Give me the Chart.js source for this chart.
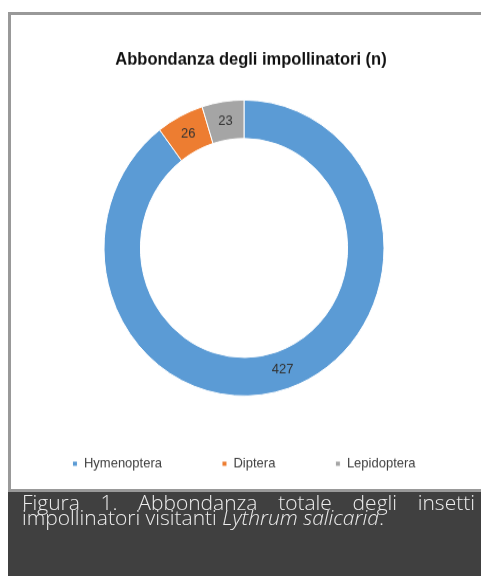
<!DOCTYPE html>
<html>
<head>
<meta charset="utf-8">
<script src="https://cdn.jsdelivr.net/npm/chart.js@4.4.1/dist/chart.umd.min.js"></script>
<style>
  html, body { margin: 0; padding: 0; background: #fff; width: 481px; height: 576px; overflow: hidden; }
  #box { position: absolute; left: 8px; top: 12px; width: 480px; height: 474px; overflow: hidden;
         border-left: 3px solid #999; border-top: 3px solid #999; border-bottom: 3px solid #999; background: #fff; }
  #wrap { position: absolute; left: 0; top: 0; width: 470px; height: 448px;
          transform: scaleY(1.057); transform-origin: 0 0; }
  #cap { position: absolute; left: 8px; top: 492px; width: 473px; height: 84px; box-sizing: border-box;
         background: #404040; color: #ececec; font-family: 'Open Sans', sans-serif; font-weight: 300;
         font-size: 21px; line-height: 15px; text-align: justify; padding: 3px 6px 0 14px; }
  #cap p { margin: 0; }
</style>
</head>
<body>
<div id="box"><div id="wrap"><canvas id="c" width="470" height="448"></canvas></div></div>
<div id="cap"><p>Figura 1. Abbondanza totale degli insetti impollinatori visitanti <em>Lythrum salicaria</em>.</p></div>
<script>
const categories = ['Hymenoptera', 'Diptera', 'Lepidoptera'];
const values = [427, 26, 23];
const chartTitle = 'Abbondanza degli impollinatori (n)';

const sliceColors = ['#5B9BD5', '#ED7D31', '#A5A5A5'];
const FONT = "'Liberation Sans', Arial, sans-serif";

const dataLabels = {
  id: 'dataLabels',
  afterDatasetsDraw(chart) {
    const ctx = chart.ctx;
    const meta = chart.getDatasetMeta(0);
    ctx.save();
    ctx.font = '13px ' + FONT;
    ctx.fillStyle = '#333';
    ctx.textAlign = 'center';
    ctx.textBaseline = 'middle';
    meta.data.forEach((arc, i) => {
      const p = arc.tooltipPosition();
      ctx.fillText(String(chart.data.datasets[0].data[i]), p.x, p.y);
    });
    ctx.restore();
  }
};

const titleShift = {
  id: 'titleShift',
  afterLayout(chart) {
    if (chart.titleBlock) { chart.titleBlock.left += 7; chart.titleBlock.right += 7; }
  }
};

new Chart(document.getElementById('c'), {
  type: 'doughnut',
  data: {
    labels: categories,
    datasets: [{
      data: values,
      backgroundColor: sliceColors,
      borderColor: '#ffffff',
      borderWidth: 1,
      radius: 140,
      cutout: '74%'
    }]
  },
  options: {
    responsive: false,
    animation: false,
    layout: { padding: { left: 0, right: 4, top: 0, bottom: 7 } },
    plugins: {
      title: {
        display: true,
        text: chartTitle,
        color: '#111',
        font: { family: FONT, size: 16.5, weight: 'bold' },
        padding: { top: 32.7, bottom: 30.3 }
      },
      legend: {
        position: 'bottom',
        labels: {
          usePointStyle: true,
          pointStyle: 'rect',
          boxWidth: 5,
          boxHeight: 5,
          padding: 60,
          color: '#404040',
          font: { family: FONT, size: 13 }
        }
      },
      tooltip: { enabled: false }
    }
  },
  plugins: [dataLabels, titleShift]
});
</script>
</body>
</html>
